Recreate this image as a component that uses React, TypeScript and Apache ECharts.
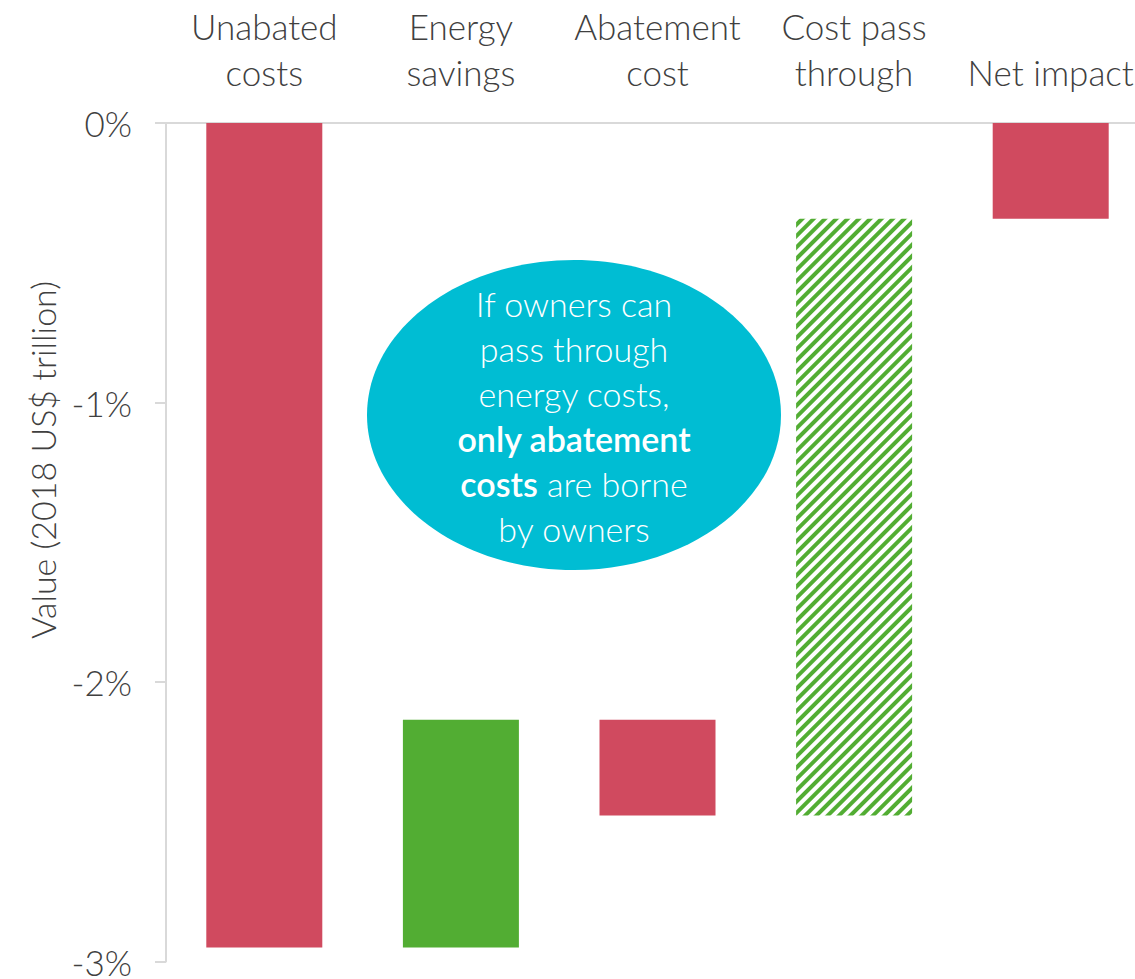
import React, { useEffect, useRef } from "react";
import * as echarts from "echarts";

const categories = ["Unabated\ncosts", "Energy\nsavings", "Abatement\ncost", "Cost pass\nthrough", "Net impact"];
const barTop = [0, -2.135, -2.135, -0.343, 0];
const barBottom = [-2.95, -2.95, -2.478, -2.478, -0.343];
const barKind = ["cost", "saving", "cost", "passthrough", "cost"];
const yTicks = { min: -3, max: 0, interval: 1 };
const yTitle = "Value (2018 US$ trillion)";
const noteLines = [
  "{n|If owners can}",
  "{n|pass through}",
  "{n|energy costs,}",
  "{b|only abatement}",
  "{b|costs}{n| are borne}",
  "{n|by owners}",
];

const RED = "#D04A5F";
const GREEN = "#52AD33";
const CYAN = "#00BDD3";
const AXIS = "#D9D9D9";
const TEXT = "#404040";
const FONT = "Lato, 'Open Sans', sans-serif";

export default function App() {
  const ref = useRef<HTMLDivElement>(null);
  useEffect(() => {
    const chart = echarts.init(ref.current!, null, { renderer: "svg" });
    const visible = barBottom.map((b, i) => {
      const kind = barKind[i];
      const item: any = { value: +(b - barTop[i]).toFixed(4) };
      if (kind === "cost") item.itemStyle = { color: RED };
      else if (kind === "saving") item.itemStyle = { color: GREEN };
      else
        item.itemStyle = {
          color: "#ffffff",
          decal: {
            symbol: "rect",
            symbolSize: 1,
            color: GREEN,
            backgroundColor: "#ffffff",
            dashArrayX: [1, 0],
            dashArrayY: [4, 4],
            rotation: -Math.PI / 4,
          },
        };
      return item;
    });
    chart.setOption({
      animation: false,
      textStyle: { fontFamily: FONT },
      grid: { left: 166, right: 11, top: 123, bottom: 14 },
      xAxis: {
        type: "category",
        position: "top",
        data: categories,
        axisLine: { show: true, lineStyle: { color: AXIS, width: 2 } },
        axisTick: { show: false },
        axisLabel: {
          color: TEXT,
          fontSize: 35,
          fontWeight: 300,
          fontFamily: FONT,
          lineHeight: 46,
          margin: 28,
          interval: 0,
        },
      },
      yAxis: {
        type: "value",
        min: yTicks.min,
        max: yTicks.max,
        interval: yTicks.interval,
        axisLine: { show: true, lineStyle: { color: AXIS, width: 2 } },
        axisTick: { show: true, length: 11, lineStyle: { color: AXIS, width: 2 } },
        splitLine: { show: false },
        axisLabel: {
          color: TEXT,
          fontSize: 35,
          fontWeight: 300,
          fontFamily: FONT,
          margin: 34,
          formatter: (v: number) => `${v}%`,
        },
      },
      series: [
        {
          type: "bar",
          stack: "w",
          silent: true,
          barWidth: 116,
          itemStyle: { color: "transparent" },
          data: barTop,
        },
        {
          type: "bar",
          stack: "w",
          barWidth: 116,
          data: visible,
        },
      ],
      graphic: [
        {
          type: "text",
          x: 42,
          y: 460,
          rotation: Math.PI / 2,
          style: {
            text: yTitle,
            fill: TEXT,
            fontSize: 34,
            fontWeight: 300,
            fontFamily: FONT,
            align: "center",
            verticalAlign: "middle",
          },
        },
        {
          type: "ellipse",
          shape: { cx: 574, cy: 415, rx: 207, ry: 155 },
          style: { fill: CYAN },
        },
        {
          type: "text",
          x: 574,
          y: 416,
          style: {
            text: noteLines.join("\n"),
            align: "center",
            verticalAlign: "middle",
            fill: "#ffffff",
            rich: {
              n: { fill: "#ffffff", fontSize: 34, fontWeight: 300, fontFamily: FONT, lineHeight: 45 },
              b: { fill: "#ffffff", fontSize: 34, fontWeight: 600, fontFamily: FONT, lineHeight: 45 },
            },
          },
        },
      ],
    });
    return () => chart.dispose();
  }, []);
  return (
    <div style={{ position: "fixed", left: 0, top: 0, width: 1135, height: 979, overflow: "hidden", background: "#fff" }}>
      <div ref={ref} style={{ width: 1160, height: 979 }} />
    </div>
  );
}
